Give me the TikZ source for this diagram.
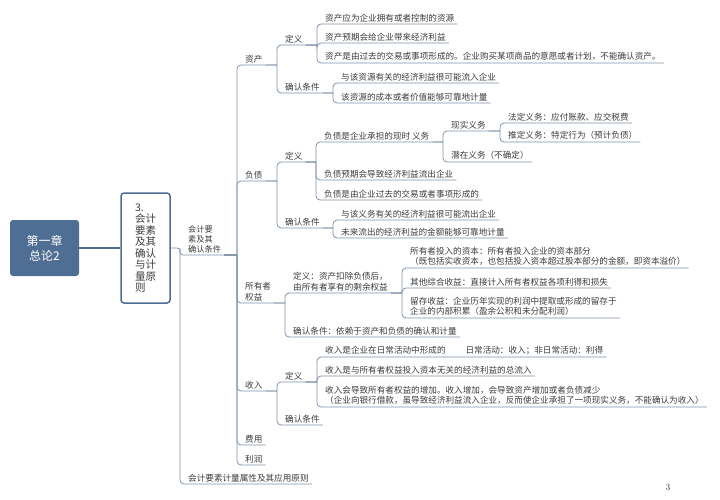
\documentclass[tikz,border=0pt]{standalone}
\usepackage{fontspec}
\newfontfamily\cjk{Noto Sans CJK SC}
\usetikzlibrary{calc}
\definecolor{linecol}{HTML}{7F91A8}
\definecolor{navy}{HTML}{4E6E93}
\definecolor{txt}{HTML}{3C3C3C}

\begin{document}
\begin{tikzpicture}[x=1pt, y=-1pt,
  topic/.style={anchor=south west, inner xsep=3pt, inner ysep=2pt, align=left, text=txt, font=\cjk\fontsize{8.6}{10.5}\selectfont},
  chapbox/.style={fill=navy, rounded corners=3pt, minimum width=69pt, minimum height=56pt, align=center, text=white, font=\cjk\fontsize{12}{15}\selectfont},
  secbox/.style={draw=navy, line width=1.5pt, fill=white, rounded corners=3pt, minimum width=49pt, minimum height=110pt, align=left, text=txt, font=\cjk\fontsize{10.5}{11.5}\selectfont},
  conn/.style={draw=linecol, line width=0.8pt, rounded corners=4pt},
  link/.style={draw=navy, line width=1.2pt},
  branch/.style={to path={(\tikztostart.south east) -- ($(\tikztostart.south east -| \tikztotarget.south west)+(-5pt,0)$) coordinate (sp) (sp) |- (\tikztotarget.south east)}}
]
\path[use as bounding box, fill=white] (0,0) rectangle (720,500);

\node[chapbox] (ch1) at (44.5,248) {第一章\\总论2};
\node[secbox] (sec) at (145.5,248) {3.\\会计\\要素\\及其\\确认\\与计\\量原\\则};
\node[topic, font=\cjk\fontsize{8.2}{9.6}\selectfont] (elem) at (185,255) {会计要\\素及其\\确认条件};
\node[topic] (meas) at (185,484) {会计要素计量属性及其应用原则};

\node[topic] (asset) at (242,65) {资产};
\node[topic] (liab) at (242,181) {负债};
\node[topic] (equity) at (242,303) {所有者\\权益};
\node[topic] (rev) at (242,391) {收入};
\node[topic] (cost) at (242,445) {费用};
\node[topic] (profit) at (242,465) {利润};

\node[topic] (adef) at (282,45) {定义};
\node[topic] (acon) at (282,93) {确认条件};
\node[topic] (ad1) at (322,24) {资产应为企业拥有或者控制的资源};
\node[topic] (ad2) at (322,43) {资产预期会给企业带来经济利益};
\node[topic] (ad3) at (322,63) {资产是由过去的交易或事项形成的。企业购买某项商品的意愿或者计划，不能确认资产。};
\node[topic] (ac1) at (338,83) {与该资源有关的经济利益很可能流入企业};
\node[topic] (ac2) at (338,103) {该资源的成本或者价值能够可靠地计量};

\node[topic] (ldef) at (282,162) {定义};
\node[topic] (lcon) at (282,228) {确认条件};
\node[topic] (lnow) at (321,142) {负债是企业承担的现时 义务};
\node[topic] (lreal) at (448,131) {现实义务};
\node[topic] (lpot) at (448,162) {潜在义务（不确定）};
\node[topic] (llegal) at (505,123) {法定义务：应付账款、应交税费};
\node[topic] (limpl) at (505,142) {推定义务：特定行为（预计负债）};
\node[topic] (ld2) at (321,180) {负债预期会导致经济利益流出企业};
\node[topic] (ld3) at (321,200) {负债是由企业过去的交易或者事项形成的};
\node[topic] (lc1) at (338,220) {与该义务有关的经济利益很可能流出企业};
\node[topic] (lc2) at (338,238) {未来流出的经济利益的金额能够可靠地计量};

\node[topic] (edef) at (290,293) {定义：资产扣除负债后，\\由所有者享有的剩余权益};
\node[topic] (econ) at (290,337) {确认条件：依赖于资产和负债的确认和计量};
\node[topic] (e1) at (407,268) {所有者投入的资本：所有者投入企业的资本部分\\（既包括实收资本，也包括投入资本超过股本部分的金额，即资本溢价）};
\node[topic] (e2) at (407,288) {其他综合收益：直接计入所有者权益各项利得和损失};
\node[topic] (e3) at (407,318) {留存收益：企业历年实现的利润中提取或形成的留存于\\企业的内部积累（盈余公积和未分配利润）};

\node[topic] (rdef) at (282,382) {定义};
\node[topic] (rcon) at (282,425) {确认条件};
\node[topic] (r1) at (322,357) {收入是企业在日常活动中形成的\hspace{20pt}日常活动：收入；非日常活动：利得};
\node[topic] (r2) at (322,376) {收入是与所有者权益投入资本无关的经济利益的总流入};
\node[topic] (r3) at (322,407) {收入会导致所有者权益的增加。收入增加，会导致资产增加或者负债减少\\（企业向银行借款，虽导致经济利益流入企业，反而使企业承担了一项现实义务，不能确认为收入）};

\node[text=txt, font=\fontsize{9.5}{11}\selectfont] (pg) at (668,487) {3};

\draw[link] (ch1) -- (sec);
\coordinate (j0) at (180,248);
\draw[conn, rounded corners=3pt] (sec) -- (j0) |- (elem.south east);
\draw[conn] (j0) |- (meas.south east);

\draw[conn] (elem) to[branch] (asset);
\draw[conn] (elem) to[branch] (liab);
\draw[conn] (elem) to[branch] (equity);
\draw[conn] (elem) to[branch] (rev);
\draw[conn] (elem) to[branch] (cost);
\draw[conn] (elem) to[branch] (profit);

\draw[conn] (asset) to[branch] (adef);
\draw[conn] (asset) to[branch] (acon);
\draw[conn] (adef) to[branch] (ad1);
\draw[conn] (adef) to[branch] (ad2);
\draw[conn] (adef) to[branch] (ad3);
\draw[conn] (acon) to[branch] (ac1);
\draw[conn] (acon) to[branch] (ac2);

\draw[conn] (liab) to[branch] (ldef);
\draw[conn] (liab) to[branch] (lcon);
\draw[conn] (ldef) to[branch] (lnow);
\draw[conn] (ldef) to[branch] (ld2);
\draw[conn] (ldef) to[branch] (ld3);
\draw[conn] (lnow) to[branch] (lreal);
\draw[conn] (lnow) to[branch] (lpot);
\draw[conn] (lreal) to[branch] (llegal);
\draw[conn] (lreal) to[branch] (limpl);
\draw[conn] (lcon) to[branch] (lc1);
\draw[conn] (lcon) to[branch] (lc2);

\draw[conn] (equity) to[branch] (edef);
\draw[conn] (equity) to[branch] (econ);
\draw[conn] (edef) to[branch] (e1);
\draw[conn] (edef) to[branch] (e2);
\draw[conn] (edef) to[branch] (e3);

\draw[conn] (rev) to[branch] (rdef);
\draw[conn] (rev) to[branch] (rcon);
\draw[conn] (rdef) to[branch] (r1);
\draw[conn] (rdef) to[branch] (r2);
\draw[conn] (rdef) to[branch] (r3);
\end{tikzpicture}
\end{document}
